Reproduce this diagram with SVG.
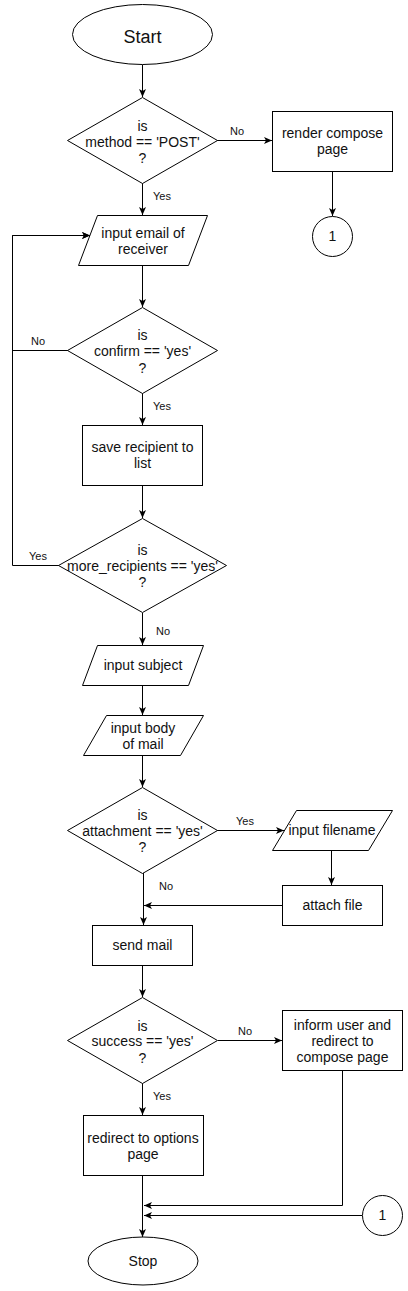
<svg xmlns="http://www.w3.org/2000/svg" width="408" height="1291" viewBox="0 0 408 1291">
<defs>
<marker id="arr" markerUnits="userSpaceOnUse" markerWidth="10" markerHeight="10" refX="8" refY="4" orient="auto">
<path d="M0,0.5 L8,4 L0,7.5 L2,4 Z" fill="#000"/>
</marker>
<style>
.s{fill:#fff;stroke:#000;stroke-width:1}
.t{font-family:"Liberation Sans",Arial,sans-serif;font-size:14px;fill:#111;text-anchor:middle}
.big{font-size:18px}
.l{font-family:"Liberation Sans",Arial,sans-serif;font-size:11px;fill:#111}
.c{fill:none;stroke:#000;stroke-width:1}
.a{marker-end:url(#arr)}
</style>
</defs>
<rect width="408" height="1291" fill="#fff"/>

<g id="connectors">
<path class="c a" d="M142.5,64.5 V97"/>
<path class="c a" d="M217,140.5 H272"/>
<path class="c a" d="M332.5,171 V216"/>
<path class="c a" d="M142.5,183 V215"/>
<path class="c a" d="M142.5,265 V307"/>
<path class="c a" d="M68,350.5 H12.5 V235.5 H90"/>
<path class="c a" d="M59,565.5 H12.5 V235.5 H90"/>
<path class="c a" d="M142.5,393 V425"/>
<path class="c a" d="M142.5,485 V518"/>
<path class="c a" d="M142.5,613 V645"/>
<path class="c a" d="M142.5,685 V715"/>
<path class="c a" d="M142.5,755 V787"/>
<path class="c a" d="M217,830.5 H284"/>
<path class="c a" d="M331.5,850 V885"/>
<path class="c a" d="M143.5,873 V925"/>
<path class="c a" d="M282,905.5 H144"/>
<path class="c a" d="M142.5,965 V997"/>
<path class="c a" d="M218,1040.5 H282"/>
<path class="c a" d="M142.5,1083 V1115"/>
<path class="c a" d="M142.5,1175 V1237"/>
<path class="c a" d="M342.5,1070 V1205.5 H144"/>
<path class="c a" d="M362,1215.5 H144"/>
<text class="l" x="230" y="135">No</text>
<text class="l" x="153" y="200">Yes</text>
<text class="l" x="31" y="345">No</text>
<text class="l" x="153" y="410">Yes</text>
<text class="l" x="29" y="560">Yes</text>
<text class="l" x="156" y="635">No</text>
<text class="l" x="236" y="825">Yes</text>
<text class="l" x="159" y="890">No</text>
<text class="l" x="238" y="1035">No</text>
<text class="l" x="153" y="1100">Yes</text>
</g>

<g id="start">
<ellipse class="s" cx="142.5" cy="34.5" rx="70" ry="30"/>
<text class="t big" x="142.5" y="43">Start</text>
</g>

<g id="d-method">
<polygon class="s" points="142.5,97.5 217.5,140.5 142.5,183.5 67.5,140.5"/>
<text class="t" x="142.5" y="131">is</text>
<text class="t" x="142.5" y="147">method == 'POST'</text>
<text class="t" x="142.5" y="163">?</text>
</g>

<g id="render-compose">
<rect class="s" x="272.5" y="111.5" width="120" height="60"/>
<text class="t" x="332.5" y="138">render compose</text>
<text class="t" x="332.5" y="154">page</text>
</g>

<g id="conn1-top">
<circle class="s" cx="332.5" cy="236.5" r="20"/>
<text class="t" x="332.5" y="241">1</text>
</g>

<g id="input-email">
<polygon class="s" points="97.5,215.5 207.5,215.5 188.5,265.5 78.5,265.5"/>
<text class="t" x="143" y="238">input email of</text>
<text class="t" x="143" y="254">receiver</text>
</g>

<g id="d-confirm">
<polygon class="s" points="142.5,307.5 217.5,350.5 142.5,393.5 67.5,350.5"/>
<text class="t" x="142.5" y="340">is</text>
<text class="t" x="142.5" y="356">confirm == 'yes'</text>
<text class="t" x="142.5" y="373">?</text>
</g>

<g id="save-recipient">
<rect class="s" x="82.5" y="425.5" width="120" height="60"/>
<text class="t" x="142.5" y="452">save recipient to</text>
<text class="t" x="142.5" y="468">list</text>
</g>

<g id="d-more">
<polygon class="s" points="142.5,518.5 226.5,565.5 142.5,612.5 58.5,565.5"/>
<text class="t" x="142.5" y="555">is</text>
<text class="t" x="142.5" y="571">more_recipients == 'yes'</text>
<text class="t" x="142.5" y="587">?</text>
</g>

<g id="input-subject">
<polygon class="s" points="97.5,645.5 203.5,645.5 188.5,685.5 82.5,685.5"/>
<text class="t" x="143" y="670">input subject</text>
</g>

<g id="input-body">
<polygon class="s" points="106.5,715.5 203.5,715.5 180.5,755.5 83.5,755.5"/>
<text class="t" x="143" y="733">input body</text>
<text class="t" x="143" y="749">of mail</text>
</g>

<g id="d-attach">
<polygon class="s" points="142.5,787.5 217.5,830.5 142.5,873.5 67.5,830.5"/>
<text class="t" x="142.5" y="820">is</text>
<text class="t" x="142.5" y="836">attachment == 'yes'</text>
<text class="t" x="142.5" y="852">?</text>
</g>

<g id="input-filename">
<polygon class="s" points="296.5,810.5 392.5,810.5 368.5,850.5 272.5,850.5"/>
<text class="t" x="332" y="835">input filename</text>
</g>

<g id="attach-file">
<rect class="s" x="282.5" y="885.5" width="100" height="40"/>
<text class="t" x="332.5" y="910">attach file</text>
</g>

<g id="send-mail">
<rect class="s" x="92.5" y="925.5" width="100" height="40"/>
<text class="t" x="142.5" y="950">send mail</text>
</g>

<g id="d-success">
<polygon class="s" points="142.5,997.5 217.5,1040.5 142.5,1083.5 67.5,1040.5"/>
<text class="t" x="142.5" y="1031">is</text>
<text class="t" x="142.5" y="1046">success == 'yes'</text>
<text class="t" x="142.5" y="1063">?</text>
</g>

<g id="inform-user">
<rect class="s" x="282.5" y="1010.5" width="120" height="60"/>
<text class="t" x="342.5" y="1030">inform user and</text>
<text class="t" x="342.5" y="1046">redirect to</text>
<text class="t" x="342.5" y="1062">compose page</text>
</g>

<g id="redirect-options">
<rect class="s" x="83.5" y="1115.5" width="120" height="60"/>
<text class="t" x="143" y="1143">redirect to options</text>
<text class="t" x="143" y="1159">page</text>
</g>

<g id="conn1-bottom">
<circle class="s" cx="382.5" cy="1215.5" r="20"/>
<text class="t" x="382.5" y="1220">1</text>
</g>

<g id="stop">
<ellipse class="s" cx="143" cy="1261" rx="55" ry="24"/>
<text class="t" x="143" y="1266">Stop</text>
</g>
</svg>
